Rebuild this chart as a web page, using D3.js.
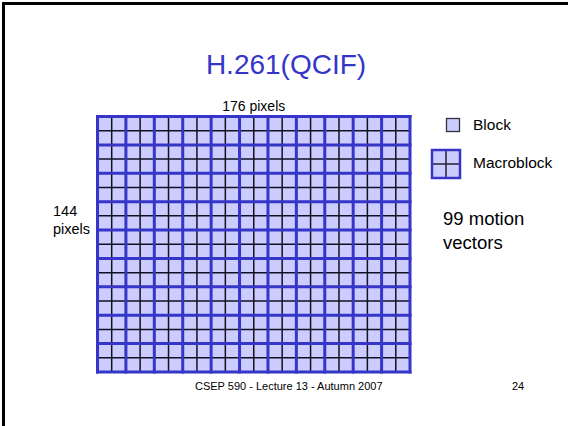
<!DOCTYPE html>
<html><head><meta charset="utf-8">
<script src="https://cdn.jsdelivr.net/npm/d3@7/dist/d3.min.js"></script>
<style>body{margin:0;background:#fff}svg{display:block}text{font-family:"Liberation Sans",Arial,sans-serif}</style>
</head><body>
<script>
const title = "H.261(QCIF)";
const frameSize = [176, 144];      // pixels (width, height)
const blockSize = 8;
const macroblockSize = 16;
const widthLabel = "176 pixels";
const heightLabel = ["144", "pixels"];
const legendLabels = ["Block", "Macroblock"];
const noteLines = ["99 motion", "vectors"];
const footer = "CSEP 590 - Lecture 13 - Autumn 2007";
const pageNo = "24";

const W = 568, H = 426;
const blue = "#3535c8", fill = "#ccccff";
const svg = d3.select("body").append("svg").attr("width", W).attr("height", H);

// slide border (left/top)
svg.append("path").attr("d", `M3.5,${H} L3.5,3.5 L${W},3.5`).attr("fill","none").attr("stroke","#000").attr("stroke-width",3);

svg.append("text").attr("x", 286).attr("y", 74).attr("text-anchor","middle")
  .attr("font-size", 28).attr("fill", blue).text(title);

const x = d3.scaleLinear().domain([0, frameSize[0]]).range([97.5, 410]);
const y = d3.scaleLinear().domain([0, frameSize[1]]).range([116.5, 372]);

const g = svg.append("g");
const colsB = d3.range(0, frameSize[0] + 1, blockSize);
const rowsB = d3.range(0, frameSize[1] + 1, blockSize);
g.append("rect").attr("x", x(0)).attr("y", y(0)).attr("width", x(frameSize[0]) - x(0))
  .attr("height", y(frameSize[1]) - y(0)).attr("fill", fill);
// block lines
g.selectAll("line.bv").data(colsB.filter(v => v % macroblockSize)).join("line")
  .attr("x1", d => x(d)).attr("x2", d => x(d)).attr("y1", y(0)).attr("y2", y(frameSize[1]))
  .attr("stroke", "#111122").attr("stroke-width", 1.5);
g.selectAll("line.bh").data(rowsB.filter(v => v % macroblockSize)).join("line")
  .attr("y1", d => y(d)).attr("y2", d => y(d)).attr("x1", x(0)).attr("x2", x(frameSize[0]))
  .attr("stroke", "#111122").attr("stroke-width", 1.5);
// macroblock lines
const colsM = d3.range(0, frameSize[0] + 1, macroblockSize);
const rowsM = d3.range(0, frameSize[1] + 1, macroblockSize);
g.selectAll("line.mv").data(colsM).join("line")
  .attr("x1", d => x(d)).attr("x2", d => x(d)).attr("y1", y(0) - 1.5).attr("y2", y(frameSize[1]) + 1.5)
  .attr("stroke", blue).attr("stroke-width", 3);
g.selectAll("line.mh").data(rowsM).join("line")
  .attr("y1", d => y(d)).attr("y2", d => y(d)).attr("x1", x(0) - 1.5).attr("x2", x(frameSize[0]) + 1.5)
  .attr("stroke", blue).attr("stroke-width", 3);

svg.append("text").attr("x", (x(0) + x(frameSize[0])) / 2).attr("y", 111).attr("text-anchor","middle")
  .attr("font-size", 14).attr("fill","#000").text(widthLabel);
svg.append("text").selectAll("tspan").data(heightLabel).join("tspan")
  .attr("x", 53).attr("y", (d, i) => 216 + i * 18).attr("font-size", 14.5).text(d => d);

// legend
svg.append("rect").attr("x", 446.5).attr("y", 118.5).attr("width", 13).attr("height", 13)
  .attr("fill", fill).attr("stroke", "#333344").attr("stroke-width", 1.3);
svg.append("text").attr("x", 473).attr("y", 130).attr("font-size", 15.5).text(legendLabels[0]);
const mb = svg.append("g").attr("transform", "translate(432,150)");
mb.append("rect").attr("width", 28).attr("height", 28).attr("fill", fill);
mb.append("line").attr("x1", 14).attr("x2", 14).attr("y1", 0).attr("y2", 28).attr("stroke", "#222233").attr("stroke-width", 1.5);
mb.append("line").attr("y1", 14).attr("y2", 14).attr("x1", 0).attr("x2", 28).attr("stroke", "#222233").attr("stroke-width", 1.5);
mb.append("rect").attr("width", 28).attr("height", 28).attr("fill", "none").attr("stroke", blue).attr("stroke-width", 2.5);
svg.append("text").attr("x", 473).attr("y", 168).attr("font-size", 15.5).text(legendLabels[1]);

svg.append("text").selectAll("tspan").data(noteLines).join("tspan")
  .attr("x", 443).attr("y", (d, i) => 225 + i * 24).attr("font-size", 18.5).text(d => d);

svg.append("text").attr("x", 195).attr("y", 390).attr("font-size", 11).text(footer);
svg.append("text").attr("x", 518).attr("y", 390).attr("text-anchor","middle").attr("font-size", 11).text(pageNo);
</script>
</body></html>
